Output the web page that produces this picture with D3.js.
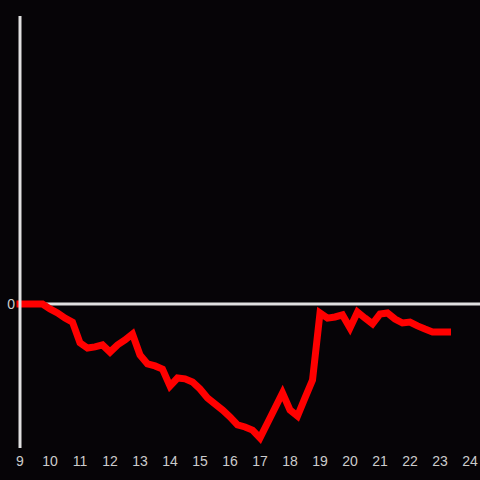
<!DOCTYPE html>
<html><head><meta charset="utf-8">
<script src="https://cdn.jsdelivr.net/npm/d3@7"></script>
<style>html,body{margin:0;padding:0;background:#060407;}svg{display:block;}</style>
</head><body>
<script>
// 15-minute steps starting at 9:00
const startHour = 9;
const stepHours = 0.25;
const values = [0,0,0,0,-1.7,-3.1,-4.9,-6.3,-13.5,-15.3,-14.9,-14.2,-16.7,-14.2,-12.5,-10.4,
  -17.7,-20.8,-21.5,-22.6,-28.5,-25.7,-26.0,-27.1,-29.5,-32.6,-34.7,-36.8,-39.2,-42.0,-42.7,-43.8,
  -46.5,-41.3,-36.1,-30.9,-36.8,-38.9,-32.6,-26.4,-3.1,-4.9,-4.5,-3.8,-8.3,-2.8,-4.9,-6.9,
  -3.5,-3.1,-5.2,-6.6,-6.3,-7.6,-8.7,-9.7,-9.7,-9.7];
const xTicks = [9,10,11,12,13,14,15,16,17,18,19,20,21,22,23,24];
const yTicks = [0];
const yDomain = [-50, 100];

const W = 480, H = 480;
const svg = d3.select("body").append("svg").attr("width", W).attr("height", H);
svg.append("rect").attr("width", W).attr("height", H).attr("fill", "#060407");

const x = d3.scaleLinear().domain([9, 24]).range([20, 470]);
const y = d3.scaleLinear().domain(yDomain).range([448, 16]);

// zero line
svg.append("line").attr("x1", 20).attr("x2", 480).attr("y1", y(0)).attr("y2", y(0))
  .attr("stroke", "#e0e0e0").attr("stroke-width", 3);

// tick labels
svg.selectAll("text.xt").data(xTicks).join("text").attr("class", "xt")
  .attr("x", d => x(d)).attr("y", 466).attr("text-anchor", "middle")
  .attr("fill", "#cccccc").attr("font-family", "Liberation Sans, Arial, sans-serif").attr("font-size", 14)
  .text(d => d);
svg.selectAll("text.yt").data(yTicks).join("text").attr("class", "yt")
  .attr("x", 15).attr("y", y(0) + 5).attr("text-anchor", "end")
  .attr("fill", "#cccccc").attr("font-family", "Liberation Sans, Arial, sans-serif").attr("font-size", 14)
  .text(d => d);

const line = d3.line().x((d, i) => x(startHour + i * stepHours)).y(d => y(d));
svg.append("path").datum(values).attr("d", line).attr("fill", "none")
  .attr("stroke", "#ff0000").attr("stroke-width", 7).attr("stroke-linecap", "square")
  .attr("stroke-linejoin", "miter");

// y axis line (on top)
svg.append("line").attr("x1", 20).attr("x2", 20).attr("y1", y(yDomain[1])).attr("y2", y(yDomain[0]))
  .attr("stroke", "#e0e0e0").attr("stroke-width", 3);
</script>
</body></html>
